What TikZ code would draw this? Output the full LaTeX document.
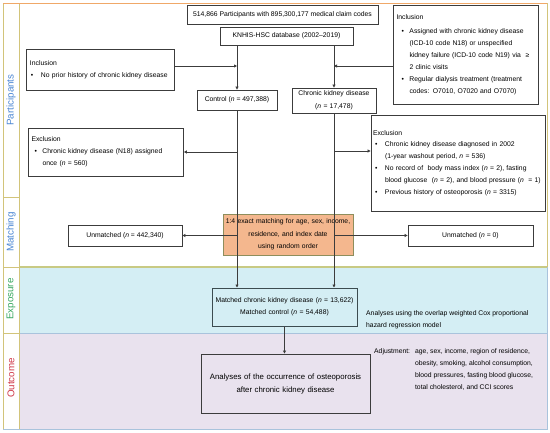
\documentclass[tikz,border=0pt]{standalone}
\usepackage{fontspec}
\setmainfont{Liberation Sans}
\usetikzlibrary{arrows.meta,calc}
\definecolor{orangec}{HTML}{F0A868}
\definecolor{goldc}{HTML}{D2C47A}
\definecolor{olivec}{HTML}{C8CA84}
\definecolor{bluec}{HTML}{A9C3DC}
\definecolor{expobg}{HTML}{D4EEF4}
\definecolor{outbg}{HTML}{E9E2EE}
\definecolor{matchc}{HTML}{F4B78E}
\definecolor{matchb}{HTML}{8E8E5C}
\definecolor{boxc}{HTML}{3C3C3C}
\definecolor{expob}{HTML}{3C4C50}
\definecolor{partc}{HTML}{4A86D4}
\definecolor{expoc}{HTML}{38A860}
\definecolor{outc}{HTML}{D03848}
\newcommand{\fs}{\fontsize{6.8}{12}\selectfont}
\newcommand{\mybul}[2]{\hspace*{#1}\makebox[#2][l]{\textbullet}}
\begin{document}
\begin{tikzpicture}[x=1pt,y=-1pt,
  box/.style={draw=boxc, line width=0.8pt, fill=white, inner sep=0pt, font=\fs, align=center},
  lbox/.style={box, align=left},
  lab/.style={rotate=90, font=\fontsize{9.8}{11}\selectfont},
  arr/.style={draw=boxc, line width=0.8pt, -{Triangle[length=3pt,width=3pt]}},
  plain/.style={font=\fs, inner sep=0pt, align=left}]
\useasboundingbox (0,0) rectangle (550,432);
\fill[white] (0,0) rectangle (550,432);
% section backgrounds
\fill[expobg] (19,267) rectangle (547,333);
\fill[outbg] (19,333) rectangle (547,429);
\draw[olivec, line width=1.4pt] (19,267) -- (547,267);
\draw[bluec, line width=1pt] (19,333) -- (547,333);
% label column
\draw[goldc, line width=1pt] (3,197) -- (19,197) (3,267) -- (19,267) (3,333) -- (19,333);
\draw[goldc, line width=1pt] (19,3) -- (19,429);
% outer frame
\draw[goldc, line width=1pt] (3,3) -- (3,429);
\draw[goldc, line width=1pt] (547,3) -- (547,267);
\draw[bluec, line width=1pt] (547,267) -- (547,429) -- (3,429);
\draw[orangec, line width=1pt] (3,3) -- (547,3);
% labels
\node[lab, text=partc] (lpart) at (11,100) {Participants};
\node[lab, text=partc] (lmatch) at (11,232) {Matching};
\node[lab, text=expoc] (lexpo) at (11,299) {Exposure};
\node[lab, text=outc] (lout) at (11,378) {Outcome};
% boxes
\node[box, minimum width=191pt, minimum height=19pt] (top) at (282.5,14.5)
  {514,866 Participants with 895,300,177 medical claim codes};
\node[box, minimum width=133pt, minimum height=18pt] (knhis) at (286.5,36)
  {KNHIS-HSC database (2002–2019)};
\node[lbox, text width=140pt, inner xsep=4pt, minimum height=41pt] (incl) at (100,69.5)
  {Inclusion\\ \mybul{1pt}{10pt}No prior history of chronic kidney disease};
\node[box, minimum width=80pt, minimum height=20pt] (ctrl) at (237,100)
  {Control (\textit{n} = 497,388)};
\node[lbox, text width=139pt, inner xsep=3pt, minimum height=99pt] (incl2) at (466,54.5)
  {Inclusion\\[2pt]
   \mybul{5pt}{8pt}Assigned with chronic kidney disease\\
   \hspace*{13pt}(ICD-10 code N18) or unspecified\\
   \hspace*{13pt}kidney failure (ICD-10 code N19) via \ ≥\\
   \hspace*{13pt}2 clinic visits\\
   \mybul{5pt}{8pt}Regular dialysis treatment (treatment\\
   \hspace*{13pt}codes: O7010, O7020 and O7070)};
\node[box, minimum width=84pt, minimum height=25pt, text width=84pt] (ckd) at (334,100.5)
  {Chronic kidney disease\\[0.6pt](\textit{n} = 17,478)};
\node[lbox, text width=149pt, inner xsep=3pt, minimum height=48pt] (excl) at (106,152)
  {Exclusion\\
   \mybul{3pt}{8pt}Chronic kidney disease (N18) assigned\\
   \hspace*{11pt}once (\textit{n} = 560)};
\node[lbox, text width=170pt, inner xsep=2pt, minimum height=96pt] (excl2) at (458,163)
  {Exclusion\\[-0.5pt]
   \mybul{2pt}{10pt}Chronic kidney disease diagnosed in 2002\\
   \hspace*{12pt}(1-year washout period, \textit{n} = 536)\\
   \mybul{2pt}{10pt}No record of \ body mass index (\textit{n} = 2), fasting\\
   \hspace*{12pt}blood glucose \ (\textit{n} = 2), and blood pressure (\textit{n} \ = 1)\\
   \mybul{2pt}{10pt}Previous history of osteoporosis (\textit{n} = 3315)};
\node[box, fill=matchc, draw=matchb, line width=0.6pt, minimum width=130pt, minimum height=41pt, text width=130pt, font=\fontsize{6.8}{12.5}\selectfont] (match) at (288,234.5)
  {1:4 exact matching for age, sex, income,\\residence, and index date\\using random order};
\node[box, minimum width=114pt, minimum height=21pt] (unml) at (125,235.5)
  {Unmatched (\textit{n} = 442,340)};
\node[box, minimum width=125pt, minimum height=21pt] (unmr) at (470.5,235.5)
  {Unmatched (\textit{n} = 0)};
\node[box, fill=expobg, draw=expob, line width=1pt, minimum width=145pt, minimum height=38pt, text width=145pt, font=\fontsize{6.8}{12.3}\selectfont] (expo) at (284.5,307)
  {Matched chronic kidney disease (\textit{n} = 13,622)\\Matched control (\textit{n} = 54,488)};
\node[box, fill=outbg, line width=0.9pt, minimum width=169pt, minimum height=59pt, text width=169pt, font=\fontsize{7.8}{13}\selectfont] (outcm) at (285.5,383.5)
  {Analyses of the occurrence of osteoporosis\\after chronic kidney disease};
\node[plain, anchor=west] (cox) at (366,319.5)
  {Analyses using the overlap weighted Cox proportional\\hazard regression model};
\node[plain, anchor=north west] (adj) at (374,345)
  {\begin{tabular}{@{}l@{\hspace{5pt}}l@{}}
   Adjustment: & age, sex, income, region of residence,\\
   & obesity, smoking, alcohol consumption,\\
   & blood pressures, fasting blood glucose,\\
   & total cholesterol, and CCI scores
   \end{tabular}};
% connectors
\coordinate (inA) at ([yshift=3.5pt]incl.east);
\coordinate (inB) at ([yshift=-11.5pt]incl2.west);
\coordinate (exB) at ([yshift=12pt]excl2.west);
\draw[arr] (knhis.south -| ctrl.north) -- (ctrl.north);
\draw[arr] (knhis.south -| ckd.north) -- (ckd.north);
\draw[arr] (inA) -- (inA -| ctrl.north);
\draw[arr] (inB) -- (inB -| ckd.north);
\draw[arr] (ctrl.south) -- (ctrl.south |- expo.north);
\draw[arr] (ckd.south) -- (ckd.south |- expo.north);
\draw[arr] (excl.east -| ctrl.south) -- (excl.east);
\draw[arr] (unml.east -| ctrl.south) -- (unml.east);
\draw[arr] (exB -| ckd.south) -- (exB);
\draw[arr] (unmr.west -| ckd.south) -- (unmr.west);
\draw[arr] (expo.south) -- (expo.south |- outcm.north);
\end{tikzpicture}
\end{document}
